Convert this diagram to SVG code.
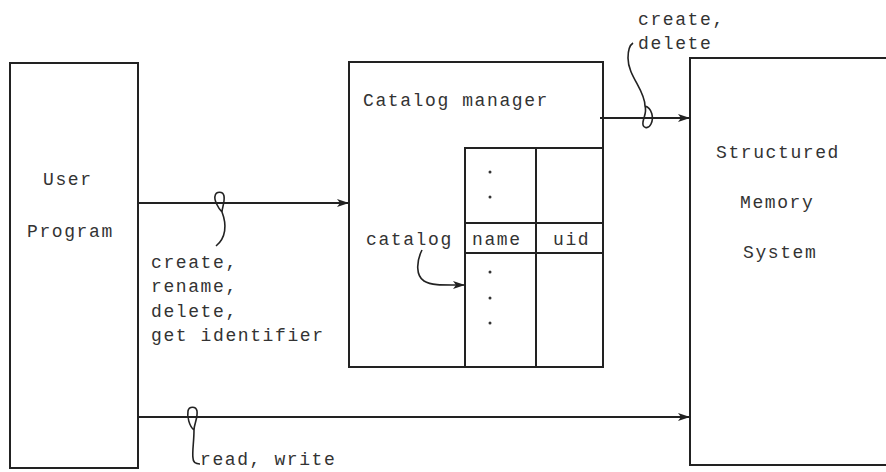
<svg xmlns="http://www.w3.org/2000/svg" width="886" height="472" viewBox="0 0 886 472">
<style>
  .box { fill: none; stroke: #222; stroke-width: 2; }
  .ln { fill: none; stroke: #222; stroke-width: 2; }
  .thin { fill: none; stroke: #222; stroke-width: 1.6; }
  text { font-family: "Liberation Mono", "DejaVu Sans Mono", monospace; font-size: 18px; letter-spacing: 1.6px; fill: #333; }
  .dot { fill: #333; }
</style>
<defs>
  <marker id="arr" viewBox="0 0 12 8" refX="12" refY="4" markerWidth="12" markerHeight="8" markerUnits="userSpaceOnUse" orient="auto">
    <path d="M0,0 L12,4 L0,8 L3,4 Z" fill="#222"/>
  </marker>
</defs>
<rect width="886" height="472" fill="#fff"/>

<g id="user-program">
  <rect class="box" x="10" y="63" width="128" height="405"/>
  <text x="43" y="185">User</text>
  <text x="27" y="237">Program</text>
</g>

<g id="catalog-manager">
  <rect class="box" x="349" y="62" width="254" height="305"/>
  <text x="363" y="106">Catalog manager</text>
  <g id="catalog-table">
    <path class="ln" d="M465,367 V148 H603 M536,148 V367 M465,223 H603 M465,253 H603"/>
    <text x="472" y="245">name</text>
    <text x="553" y="245">uid</text>
    <circle class="dot" cx="490" cy="172" r="1.5"/>
    <circle class="dot" cx="490" cy="197" r="1.5"/>
    <circle class="dot" cx="490" cy="272" r="1.5"/>
    <circle class="dot" cx="490" cy="298" r="1.5"/>
    <circle class="dot" cx="490" cy="323" r="1.5"/>
  </g>
  <text x="366" y="245">catalog</text>
</g>

<g id="structured-memory-system">
  <path class="box" d="M886,58 H690 V465 H886"/>
  <text x="716" y="158">Structured</text>
  <text x="740" y="208">Memory</text>
  <text x="743" y="258">System</text>
</g>

<g id="connectors">
  <line class="ln" x1="138" y1="203" x2="349" y2="203" marker-end="url(#arr)"/>
  <line class="ln" x1="600" y1="118" x2="690" y2="118" marker-end="url(#arr)"/>
  <line class="ln" x1="138" y1="417" x2="690" y2="417" marker-end="url(#arr)"/>
  <path class="thin" d="M422,250 C416,262 416,276 424,281 C432,286 445,285 465,285" marker-end="url(#arr)"/>
  <!-- label loops -->
  <path class="thin" d="M222,212 C218,208 214,200 215,196 C216,191 223,191 224,196 C225,202 222,208 222,212 C227,225 226,238 216,246"/>
  <path class="thin" d="M645,106 C652,108 654,118 651,124 C648,130 642,128 643,122 C644,116 647,112 645,106 C645,90 628,76 628,58 C628,49 630,45 633,43"/>
  <path class="thin" d="M194,430 C189,426 187,416 188,411 C189,406 196,406 197,411 C198,418 194,424 194,430 C194,442 192,452 193,458 C193,462 196,464 200,464"/>
</g>

<g id="labels">
  <text x="151" y="268">create,</text>
  <text x="151" y="292">rename,</text>
  <text x="151" y="317">delete,</text>
  <text x="151" y="341">get identifier</text>
  <text x="638" y="25">create,</text>
  <text x="638" y="49">delete</text>
  <text x="200" y="465">read, write</text>
</g>
</svg>
